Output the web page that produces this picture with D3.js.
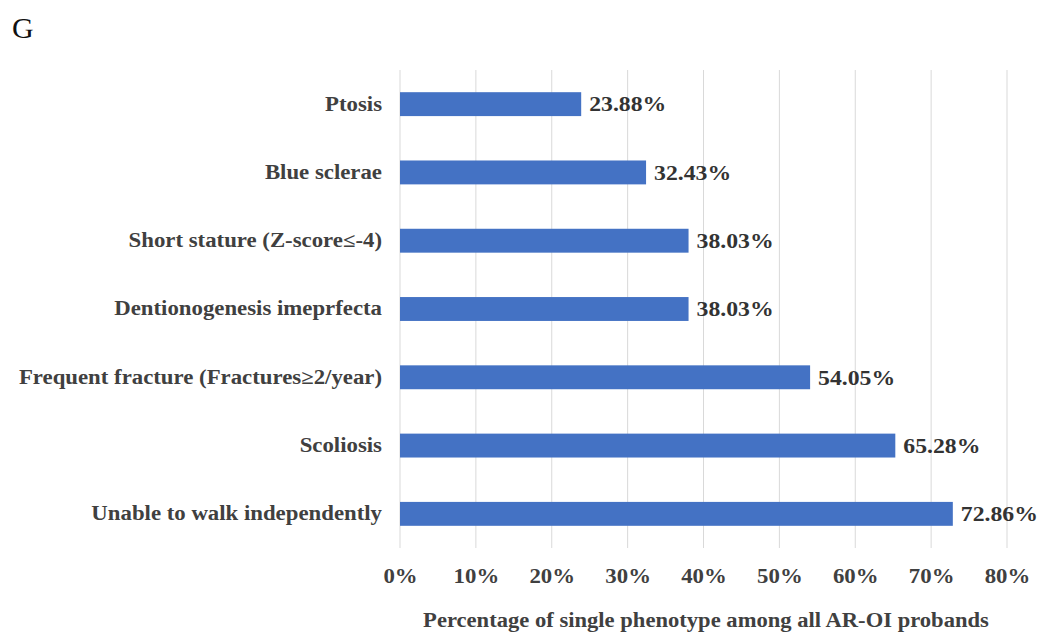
<!DOCTYPE html>
<html><head><meta charset="utf-8">
<script src="https://cdn.jsdelivr.net/npm/d3@7/dist/d3.min.js"></script>
<style>body{margin:0;background:#fff}svg{display:block}</style>
</head><body>
<script>
const categories = ["Ptosis","Blue sclerae","Short stature (Z-score≤-4)","Dentionogenesis imeprfecta","Frequent fracture (Fractures≥2/year)","Scoliosis","Unable to walk independently"];
const values = [23.88,32.43,38.03,38.03,54.05,65.28,72.86];
const ticks = [0,10,20,30,40,50,60,70,80];

const W=1042,H=637;
const svg=d3.select("body").append("svg").attr("width",W).attr("height",H);
const font="'Liberation Serif','Times New Roman',serif";
const x=d3.scaleLinear().domain([0,80]).range([400,1007]);
const y=d3.scaleBand().domain(categories).range([70,548]).paddingInner(0.65).paddingOuter(0.325);

svg.append("text").attr("x",12).attr("y",38).attr("font-family",font).attr("font-size",30).attr("fill","#111").text("G");

svg.append("g").selectAll("line").data(ticks).join("line")
 .attr("x1",d=>x(d)).attr("x2",d=>x(d)).attr("y1",70).attr("y2",548)
 .attr("stroke","#d9d9d9").attr("stroke-width",1);

const xa=svg.append("g").attr("transform","translate(0,548)").call(d3.axisBottom(x).tickValues(ticks).tickFormat(d=>d+"%").tickSize(0).tickPadding(21));
xa.select(".domain").remove();
xa.selectAll("text").attr("font-family",font).attr("font-size",20).attr("font-weight","bold").attr("fill","#404040").attr("transform","scale(1.14,1)");

const ya=svg.append("g").attr("transform","translate(382,0)").call(d3.axisLeft(y).tickSize(0).tickPadding(0));
ya.select(".domain").remove();
ya.selectAll("text").attr("font-family",font).attr("font-size",20).attr("font-weight","bold").attr("fill","#404040").attr("transform","scale(1.14,1)");

svg.append("g").selectAll("rect").data(values).join("rect")
 .attr("x",x(0)).attr("y",(d,i)=>y(categories[i])).attr("width",d=>x(d)-x(0)).attr("height",y.bandwidth())
 .attr("fill","#4472C4");

svg.append("g").selectAll("text").data(values).join("text")
 .attr("transform",(d,i)=>`translate(${x(d)+8},${y(categories[i])+y.bandwidth()/2}) scale(1.13,1)`).attr("dy","0.35em")
 .attr("font-family",font).attr("font-size",21).attr("font-weight","bold").attr("fill","#333")
 .text(d=>d.toFixed(2)+"%");

svg.append("text").attr("transform","translate(706,627) scale(1.13,1)").attr("text-anchor","middle")
 .attr("font-family",font).attr("font-size",20).attr("font-weight","bold").attr("fill","#404040")
 .text("Percentage of single phenotype among all AR-OI probands");
</script>
</body></html>
